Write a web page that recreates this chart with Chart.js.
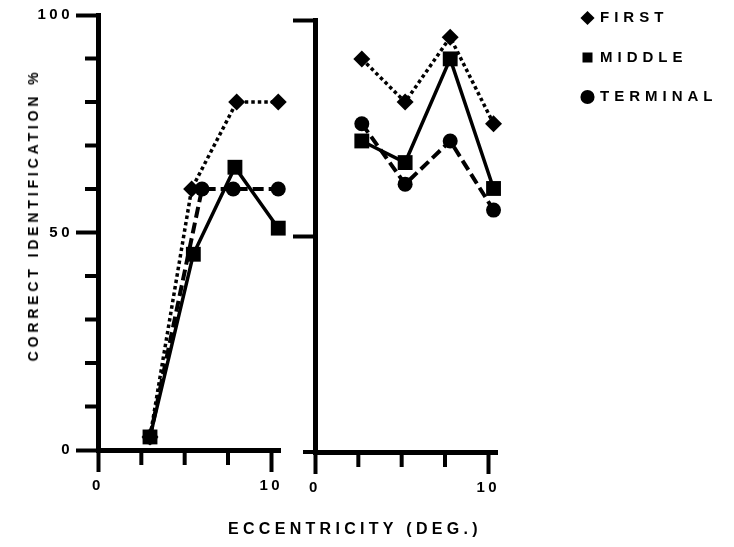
<!DOCTYPE html>
<html>
<head>
<meta charset="utf-8">
<script src="https://cdn.jsdelivr.net/npm/chart.js@4.4.1/dist/chart.umd.min.js"></script>
<style>
  body { margin: 0; background: #fff; }
  #wrap { position: relative; width: 734px; height: 547px; overflow: hidden;
          font-family: "Liberation Sans", Arial, sans-serif; font-weight: bold; color: #000; }
  canvas { position: absolute; }
  .ttl { position: absolute; white-space: pre; line-height: 1; }
</style>
</head>
<body>
<div id="wrap">
  <canvas id="left" width="300" height="547" style="left:0;top:0"></canvas>
  <canvas id="right" width="230" height="547" style="left:290px;top:0"></canvas>
  <canvas id="key" width="400" height="170" style="left:558px;top:-14px"></canvas>
  <div class="ttl" style="left:228px;top:521px;font-size:16px;letter-spacing:4.3px">ECCENTRICITY (DEG.)</div>
  <div class="ttl" style="left:33px;top:215px;font-size:14px;letter-spacing:3.85px;transform:translate(-50%,-50%) rotate(-90deg)">CORRECT IDENTIFICATION %</div>
</div>
<script>
const seriesNames = ['FIRST', 'MIDDLE', 'TERMINAL'];
const markers = ['rectRot', 'rect', 'circle'];

// left panel (eccentricity in deg., % correct)
const leftFirstX = [3.0, 5.4, 8.0, 10.4];
const leftFirst = [3, 60, 80, 80];
const leftMiddleX = [3.0, 5.5, 7.9, 10.4];
const leftMiddle = [3, 45, 65, 51];
const leftTerminalX = [3.0, 6.0, 7.8, 10.4];
const leftTerminal = [3, 60, 60, 60];

// right panel
const rightX = [2.7, 5.2, 7.8, 10.3];
const rightFirst = [91, 81, 96, 76];
const rightMiddle = [72, 67, 91, 61];
const rightTerminal = [76, 62, 72, 56];

const xTickLabels = [0, 10];
const yTickLabels = [0, 50, 100];

Chart.defaults.font.family = '"Liberation Sans", Arial, sans-serif';
Chart.defaults.font.weight = 'bold';
Chart.defaults.font.size = 15;
Chart.defaults.color = '#000';

// wide lettering like the original typesetting
const spacingPlugin = {
    id: 'spacing',
    beforeUpdate(chart, args, opts) { chart.ctx.letterSpacing = opts.value; },
    beforeDraw(chart, args, opts) { chart.ctx.letterSpacing = opts.value; }
};

// short tick marks between the long ones
const minorTicks = {
    id: 'minorTicks',
    afterDraw(chart, args, opts) {
        const ctx = chart.ctx;
        ctx.save();
        ctx.strokeStyle = '#000';
        ctx.lineWidth = 4;
        (opts.list || []).forEach(m => {
            const s = chart.scales[m.axis];
            m.values.forEach(v => {
                const p = s.getPixelForValue(v);
                ctx.beginPath();
                if (s.isHorizontal()) {
                    ctx.moveTo(p, s.top);
                    ctx.lineTo(p, s.top + m.len);
                } else {
                    ctx.moveTo(s.right, p);
                    ctx.lineTo(s.right - m.len, p);
                }
                ctx.stroke();
            });
        });
        ctx.restore();
    }
};

function series(i, xs, ys) {
    return {
        label: seriesNames[i],
        data: xs.map((x, k) => ({ x: x, y: ys[k] })),
        borderColor: '#000',
        backgroundColor: '#000',
        borderWidth: [3.5, 3.5, 4][i],
        borderDash: [[3.5, 3], [], [11, 5]][i],
        pointStyle: markers[i],
        pointRadius: [8.5, 10.5, 7.5][i],
        pointBorderWidth: 0,
        order: [1, 0, 2][i],
        clip: false,
        tension: 0
    };
}

function xAxis(height) {
    return {
        type: 'linear', min: 0, max: 10.5,
        afterFit: s => { s.height = height; },
        border: { color: '#000', width: 5 },
        grid: {
            drawOnChartArea: false, tickLength: 22, tickWidth: 4,
            tickColor: c => (c.tick && xTickLabels.includes(c.tick.value)) ? '#000' : 'rgba(0,0,0,0)'
        },
        ticks: {
            stepSize: 2.5, includeBounds: false, autoSkip: false, maxRotation: 0, padding: 5,
            callback: v => xTickLabels.includes(v) ? String(v) : ''
        }
    };
}

function yAxis(width, step, showLabels, major) {
    return {
        type: 'linear', min: 0, max: 100,
        afterFit: s => { s.width = width; },
        border: { color: '#000', width: 5 },
        grid: {
            drawOnChartArea: false, tickLength: 22, tickWidth: 4,
            tickColor: c => (c.tick && major.includes(c.tick.value)) ? '#000' : 'rgba(0,0,0,0)'
        },
        ticks: {
            display: showLabels, stepSize: step, autoSkip: false, padding: 3,
            callback: v => yTickLabels.includes(v) ? String(v) : ''
        }
    };
}

new Chart(document.getElementById('left'), {
    type: 'line',
    data: {
        datasets: [
            series(0, leftFirstX, leftFirst),
            series(1, leftMiddleX, leftMiddle),
            series(2, leftTerminalX, leftTerminal)
        ]
    },
    options: {
        responsive: false,
        animation: false,
        events: [],
        layout: { padding: { top: 15, right: 20, bottom: 0, left: 0 } },
        scales: {
            x: xAxis(97),
            y: yAxis(98, 10, true, yTickLabels)
        },
        plugins: {
            legend: { display: false },
            tooltip: { enabled: false },
            spacing: { value: '3.5px' },
            minorTicks: {
                list: [
                    { axis: 'y', values: [10, 20, 30, 40, 60, 70, 80, 90], len: 13 },
                    { axis: 'x', values: [2.5, 5, 7.5], len: 15 }
                ]
            }
        }
    },
    plugins: [spacingPlugin, minorTicks]
});

new Chart(document.getElementById('right'), {
    type: 'line',
    data: {
        datasets: [
            series(0, rightX, rightFirst),
            series(1, rightX, rightMiddle),
            series(2, rightX, rightTerminal)
        ]
    },
    options: {
        responsive: false,
        animation: false,
        events: [],
        layout: { padding: { top: 20, right: 23, bottom: 0, left: 0 } },
        scales: {
            x: xAxis(95),
            y: yAxis(25, 50, false, [50, 100])
        },
        plugins: {
            legend: { display: false },
            tooltip: { enabled: false },
            spacing: { value: '3.5px' },
            minorTicks: {
                list: [
                    { axis: 'y', values: [0], len: 12 },
                    { axis: 'x', values: [2.5, 5, 7.5], len: 15 }
                ]
            }
        }
    },
    plugins: [spacingPlugin, minorTicks]
});

// key for the three series
new Chart(document.getElementById('key'), {
    type: 'line',
    data: { datasets: [] },
    options: {
        responsive: false,
        animation: false,
        events: [],
        layout: { padding: 0 },
        scales: { x: { display: false }, y: { display: false } },
        plugins: {
            tooltip: { enabled: false },
            spacing: { value: '5px' },
            legend: {
                position: 'left',
                align: 'start',
                labels: {
                    usePointStyle: true, boxWidth: 10, boxHeight: 10, padding: 24.5,
                    font: { size: 15, weight: 'bold' },
                    generateLabels: () => seriesNames.map((t, i) => ({
                        text: t, pointStyle: markers[i], fillStyle: '#000', strokeStyle: '#000',
                        fontColor: '#000', lineWidth: 0, hidden: false, datasetIndex: i
                    }))
                }
            }
        }
    },
    plugins: [spacingPlugin]
});
</script>
</body>
</html>
